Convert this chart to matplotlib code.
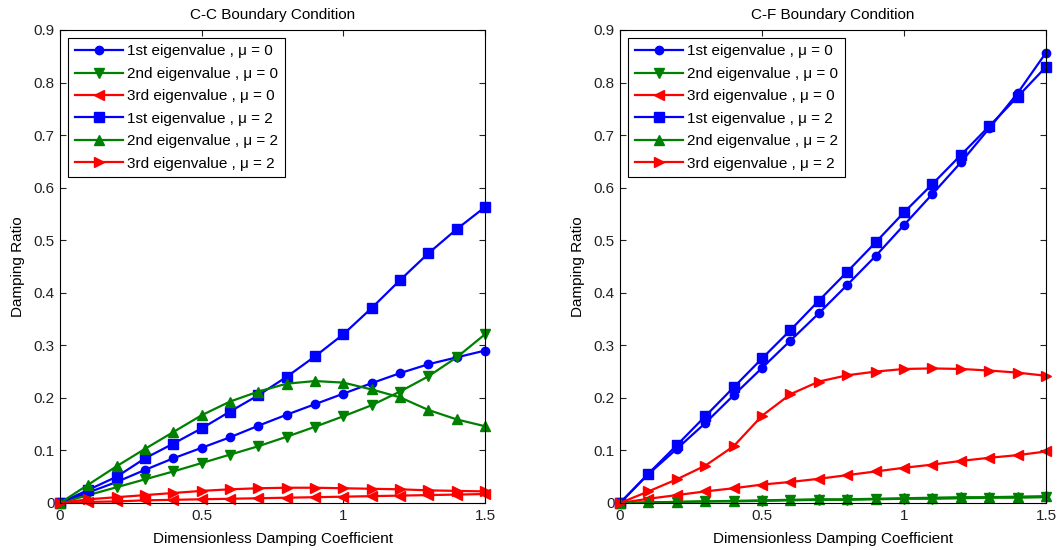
import numpy as np
import matplotlib.pyplot as plt

plt.rcParams['font.family'] = ['Liberation Sans', 'DejaVu Sans']

x = np.round(np.arange(0, 1.51, 0.1), 2)

# C-C boundary condition
cc_1st_mu0 = [0, 0.020, 0.040, 0.063, 0.085, 0.105, 0.125, 0.147, 0.168, 0.188, 0.208, 0.228, 0.247, 0.264, 0.277, 0.290]
cc_2nd_mu0 = [0, 0.015, 0.030, 0.045, 0.060, 0.076, 0.092, 0.108, 0.126, 0.145, 0.165, 0.186, 0.212, 0.241, 0.277, 0.321]
cc_3rd_mu0 = [0, 0.002, 0.003, 0.005, 0.006, 0.007, 0.008, 0.009, 0.010, 0.011, 0.012, 0.013, 0.014, 0.015, 0.016, 0.017]
cc_1st_mu2 = [0, 0.025, 0.050, 0.085, 0.113, 0.142, 0.174, 0.205, 0.240, 0.279, 0.321, 0.371, 0.424, 0.475, 0.521, 0.563]
cc_2nd_mu2 = [0, 0.035, 0.070, 0.103, 0.135, 0.167, 0.193, 0.212, 0.227, 0.232, 0.229, 0.216, 0.201, 0.177, 0.159, 0.146]
cc_3rd_mu2 = [0, 0.007, 0.011, 0.015, 0.019, 0.023, 0.026, 0.028, 0.029, 0.029, 0.028, 0.027, 0.026, 0.024, 0.023, 0.022]

# C-F boundary condition
cf_1st_mu0 = [0, 0.055, 0.103, 0.152, 0.205, 0.257, 0.309, 0.361, 0.415, 0.470, 0.529, 0.588, 0.648, 0.713, 0.780, 0.857]
cf_2nd_mu0 = [0, 0.001, 0.002, 0.003, 0.003, 0.004, 0.005, 0.006, 0.006, 0.007, 0.008, 0.008, 0.009, 0.010, 0.010, 0.011]
cf_3rd_mu0 = [0, 0.008, 0.015, 0.022, 0.028, 0.035, 0.040, 0.046, 0.053, 0.060, 0.067, 0.073, 0.080, 0.086, 0.091, 0.098]
cf_1st_mu2 = [0, 0.056, 0.110, 0.165, 0.220, 0.275, 0.329, 0.385, 0.440, 0.496, 0.553, 0.607, 0.662, 0.717, 0.773, 0.830]
cf_2nd_mu2 = [0, 0.001, 0.002, 0.003, 0.004, 0.005, 0.006, 0.007, 0.007, 0.008, 0.009, 0.010, 0.011, 0.011, 0.012, 0.013]
cf_3rd_mu2 = [0, 0.022, 0.045, 0.071, 0.108, 0.166, 0.207, 0.231, 0.243, 0.250, 0.255, 0.256, 0.255, 0.252, 0.248, 0.242]

labels = ['1st eigenvalue , \u03bc = 0', '2nd eigenvalue , \u03bc = 0', '3rd eigenvalue , \u03bc = 0',
          '1st eigenvalue , \u03bc = 2', '2nd eigenvalue , \u03bc = 2', '3rd eigenvalue , \u03bc = 2']
colors = ['#0000ff', '#008000', '#ff0000', '#0000ff', '#008000', '#ff0000']
markers = ['o', 'v', '<', 's', '^', '>']
msizes = [6, 7, 7, 6.5, 7, 7]

yticks = np.round(np.arange(0, 0.91, 0.1), 1)
ytick_labels = ['0'] + ['%.1f' % v for v in yticks[1:]]
xticks = [0, 0.5, 1, 1.5]
xtick_labels = ['0', '0.5', '1', '1.5']

fig = plt.figure(figsize=(10.59, 5.50), dpi=100)
ax1 = fig.add_axes([0.0567, 0.0855, 0.4013, 0.8600])
ax2 = fig.add_axes([0.5855, 0.0855, 0.4023, 0.8600])

panels = [
    (ax1, 'C-C Boundary Condition', [cc_1st_mu0, cc_2nd_mu0, cc_3rd_mu0, cc_1st_mu2, cc_2nd_mu2, cc_3rd_mu2]),
    (ax2, 'C-F Boundary Condition', [cf_1st_mu0, cf_2nd_mu0, cf_3rd_mu0, cf_1st_mu2, cf_2nd_mu2, cf_3rd_mu2]),
]

for ax, title, series in panels:
    for y, lab, c, m, ms in zip(series, labels, colors, markers, msizes):
        ax.plot(x, y, color=c, marker=m, markersize=ms, linewidth=1.6, label=lab, clip_on=False)
    ax.set_xlim(0, 1.5)
    ax.set_ylim(0, 0.9)
    ax.set_xticks(xticks)
    ax.set_xticklabels(xtick_labels)
    ax.set_yticks(yticks)
    ax.set_yticklabels(ytick_labels)
    ax.tick_params(direction='in', top=True, right=True, labelsize=11, length=4,
                   colors='#222222', pad=4)
    for sp in ax.spines.values():
        sp.set_linewidth(0.8)
    ax.set_title(title, fontsize=11, pad=8)
    ax.set_xlabel('Dimensionless Damping Coefficient', fontsize=11, labelpad=7)
    ax.set_ylabel('Damping Ratio', fontsize=11, labelpad=6)
    leg = ax.legend(loc='upper left', fontsize=11, fancybox=False, framealpha=1,
                    edgecolor='black', handlelength=3.2, handletextpad=0.25,
                    labelspacing=0.55, borderaxespad=0.5, borderpad=0.45)
    leg.get_frame().set_linewidth(0.8)

fig.savefig('out.png', dpi=100)
